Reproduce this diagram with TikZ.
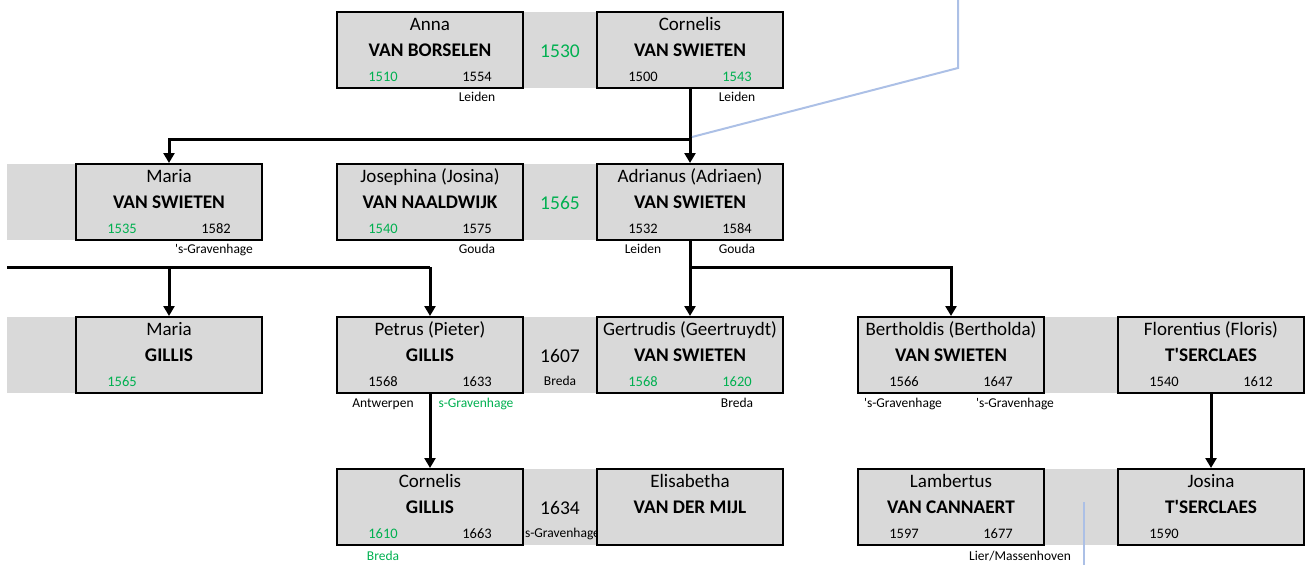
\documentclass[tikz,border=0pt]{standalone}
\usepackage{fontspec}
\setmainfont{Carlito}
\usetikzlibrary{arrows.meta,calc}
\definecolor{boxgray}{HTML}{D9D9D9}
\definecolor{yrgreen}{HTML}{00B050}
\definecolor{lblue}{RGB}{172,192,230}
\newcommand\aq{\textquotesingle}
\tikzset{
  pbox/.style={draw=black,line width=2pt,fill=boxgray,minimum width=186pt,minimum height=76pt,inner sep=0pt},
  band/.style={fill=boxgray,draw=none},
  gname/.style={font=\fontsize{19}{21}\selectfont,inner sep=0pt,text height=13pt,text depth=4pt},
  sname/.style={font=\fontsize{19.3}{21}\selectfont\bfseries,inner sep=0pt,text height=13pt,text depth=4pt},
  yr/.style={font=\fontsize{14.5}{16}\selectfont,inner sep=0pt,text height=10pt,text depth=0pt},
  place/.style={font=\fontsize{13.5}{15}\selectfont,inner sep=0pt,text height=9.5pt,text depth=3pt},
  myear/.style={font=\fontsize{19.5}{21}\selectfont,inner sep=0pt,text height=13pt,text depth=0pt},
  conn/.style={draw=black,line width=3pt},
  arr/.style={conn,-{Triangle[width=11pt,length=10pt]}},
  blue/.style={draw=lblue,line width=2pt}
}
% #1 name, #2 x, #3 y, #4 given, #5 surname, #6 left year, #7 right year
\newcommand\pers[7]{%
  \node[pbox] (#1) at (#2,#3) {};
  \node[gname] (#1-g) at (#2,#3-24) {#4};
  \node[sname] (#1-s) at (#2,#3+2) {#5};
  \node[yr] (#1-y1) at (#2-47,#3+26) {#6};
  \node[yr] (#1-y2) at (#2+47,#3+26) {#7};
}
\newcommand\gy[1]{\textcolor{yrgreen}{#1}}
\begin{document}
\begin{tikzpicture}[x=1pt,y=-1pt]
\useasboundingbox (0,0) rectangle (1309,565);
% gray bands
\fill[band] (523,12) rectangle (597,88);
\fill[band] (7,164) rectangle (76,240);
\fill[band] (523,164) rectangle (597,240);
\fill[band] (7,317) rectangle (76,393);
\fill[band] (523,317) rectangle (597,393);
\fill[band] (1044,317) rectangle (1118,393);
\fill[band] (523,469) rectangle (597,545);
\fill[band] (1044,469) rectangle (1118,545);
% band text hidden partly under boxes
\node[place] (m4p) at (561,534) {\aq s-Gravenhage};
% row 1
\pers{anna}{430}{50}{Anna}{VAN BORSELEN}{\gy{1510}}{1554}
\pers{cornelis}{690}{50}{Cornelis}{VAN SWIETEN}{1500}{\gy{1543}}
\node[myear] (m1) at (560,51) {\gy{1530}};
\node[place] (anna-p) at (477,98) {Leiden};
\node[place] (cornelis-p) at (737,98) {Leiden};
% row 2
\pers{mariaVS}{169}{202}{Maria}{VAN SWIETEN}{\gy{1535}}{1582}
\pers{josephina}{430}{202}{Josephina (Josina)}{VAN NAALDWIJK}{\gy{1540}}{1575}
\pers{adrianus}{690}{202}{Adrianus (Adriaen)}{VAN SWIETEN}{1532}{1584}
\node[myear] (m2) at (560,203) {\gy{1565}};
\node[place] (mariaVS-p) at (214,250) {\aq s-Gravenhage};
\node[place] (josephina-p) at (477,250) {Gouda};
\node[place] (adrianus-p1) at (643,250) {Leiden};
\node[place] (adrianus-p2) at (737,250) {Gouda};
% row 3
\pers{mariaG}{169}{355}{Maria}{GILLIS}{\gy{1565}}{}
\pers{petrus}{430}{355}{Petrus (Pieter)}{GILLIS}{1568}{1633}
\pers{gertrudis}{690}{355}{Gertrudis (Geertruydt)}{VAN SWIETEN}{\gy{1568}}{\gy{1620}}
\pers{bertholdis}{951}{355}{Bertholdis (Bertholda)}{VAN SWIETEN}{1566}{1647}
\pers{florentius}{1211}{355}{Florentius (Floris)}{T\aq SERCLAES}{1540}{1612}
\node[myear] (m3) at (560,356) {1607};
\node[place] (m3p) at (560,382) {Breda};
\node[place] (petrus-p1) at (383,404) {Antwerpen};
\node[place] (petrus-p2) at (476,404) {\gy{s-Gravenhage}};
\node[place] (gertrudis-p) at (737,404) {Breda};
\node[place] (bertholdis-p1) at (903,404) {\aq s-Gravenhage};
\node[place] (bertholdis-p2) at (1015,404) {\aq s-Gravenhage};
% row 4
\pers{cornelisG}{430}{507}{Cornelis}{GILLIS}{\gy{1610}}{1663}
\pers{elisabetha}{690}{507}{Elisabetha}{VAN DER MIJL}{}{}
\pers{lambertus}{951}{507}{Lambertus}{VAN CANNAERT}{1597}{1677}
\pers{josina}{1211}{507}{Josina}{T\aq SERCLAES}{1590}{}
\node[myear] (m4) at (560,508) {1634};
\node[place] (cornelisG-p) at (383,557) {\gy{Breda}};
\node[place] (lambertus-p) at (1020,557) {Lier/Massenhoven};
% connectors
\coordinate (j1) at (690,139);
\coordinate (j0) at (169,139);
\draw[conn] (cornelis.south) -- (j1);
\draw[arr] (j1) -- (adrianus.north);
\draw[arr] (j1) -- (j0) -- (mariaVS.north);
\coordinate (k0) at (690,267);
\coordinate (k1) at (951,267);
\draw[conn] (adrianus.south) -- (k0);
\draw[arr] (k0) -- (gertrudis.north);
\draw[arr] (k0) -- (k1) -- (bertholdis.north);
\coordinate (l0) at (7,267);
\coordinate (l1) at (169,267);
\coordinate (l2) at (430,267);
\draw[conn] (l0) -- (l2);
\draw[arr] (l1) -- (mariaG.north);
\draw[arr] (l2) -- (petrus.north);
\draw[arr] (petrus.south) -- (cornelisG.north);
\draw[arr] (florentius.south) -- (josina.north);
% light blue lines
\coordinate (b0) at (692,137);
\coordinate (b1) at (958,68);
\coordinate (b2) at (958,0);
\draw[blue] (b0) -- (b1) -- (b2);
\coordinate (c0) at (1084,502);
\coordinate (c1) at (1084,565);
\draw[blue] (c0) -- (c1);
\end{tikzpicture}
\end{document}
